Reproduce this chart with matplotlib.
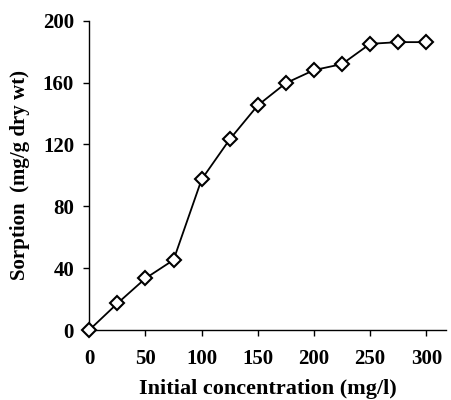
import matplotlib
matplotlib.use("Agg")
import matplotlib.pyplot as plt

# data
conc = [0, 25, 50, 75, 100, 125, 150, 175, 200, 225, 250, 275, 300]
sorption = [0, 17.2, 33.4, 45.3, 97.4, 123.3, 145.3, 159.7, 168.1, 172.0, 185.1, 186.2, 186.2]
xticks = [0, 50, 100, 150, 200, 250, 300]
yticks = [0, 40, 80, 120, 160, 200]

plt.rcParams['font.family'] = ['Liberation Serif', 'DejaVu Serif']
plt.rcParams['font.weight'] = 'bold'

fig = plt.figure(figsize=(4.51, 4.0), dpi=100)
ax = fig.add_axes([0.198, 0.175, 0.792, 0.773])

ax.plot(conc, sorption, color='black', lw=1.3, marker='D', markersize=7.5,
        markerfacecolor='white', markeredgecolor='black', markeredgewidth=1.5,
        clip_on=False, zorder=3)

ax.set_xlim(0, 318)
ax.set_ylim(0, 200)
ax.set_xticks(xticks)
ax.set_yticks(yticks)
ax.spines['top'].set_visible(False)
ax.spines['right'].set_visible(False)
for s in ['left', 'bottom']:
    ax.spines[s].set_linewidth(1.0)
ax.tick_params(axis='both', direction='out', length=4, width=1.0, labelsize=15)
ax.tick_params(axis='x', pad=10)
ax.tick_params(axis='y', pad=7)
for lab in ax.get_xticklabels() + ax.get_yticklabels():
    lab.set_fontweight('bold')

ax.set_xlabel('Initial concentration (mg/l)', fontsize=16, fontweight='bold', labelpad=7)
ax.set_ylabel('Sorption  (mg/g dry wt)', fontsize=15, fontweight='bold', labelpad=9)

fig.savefig('out.png', dpi=100)
